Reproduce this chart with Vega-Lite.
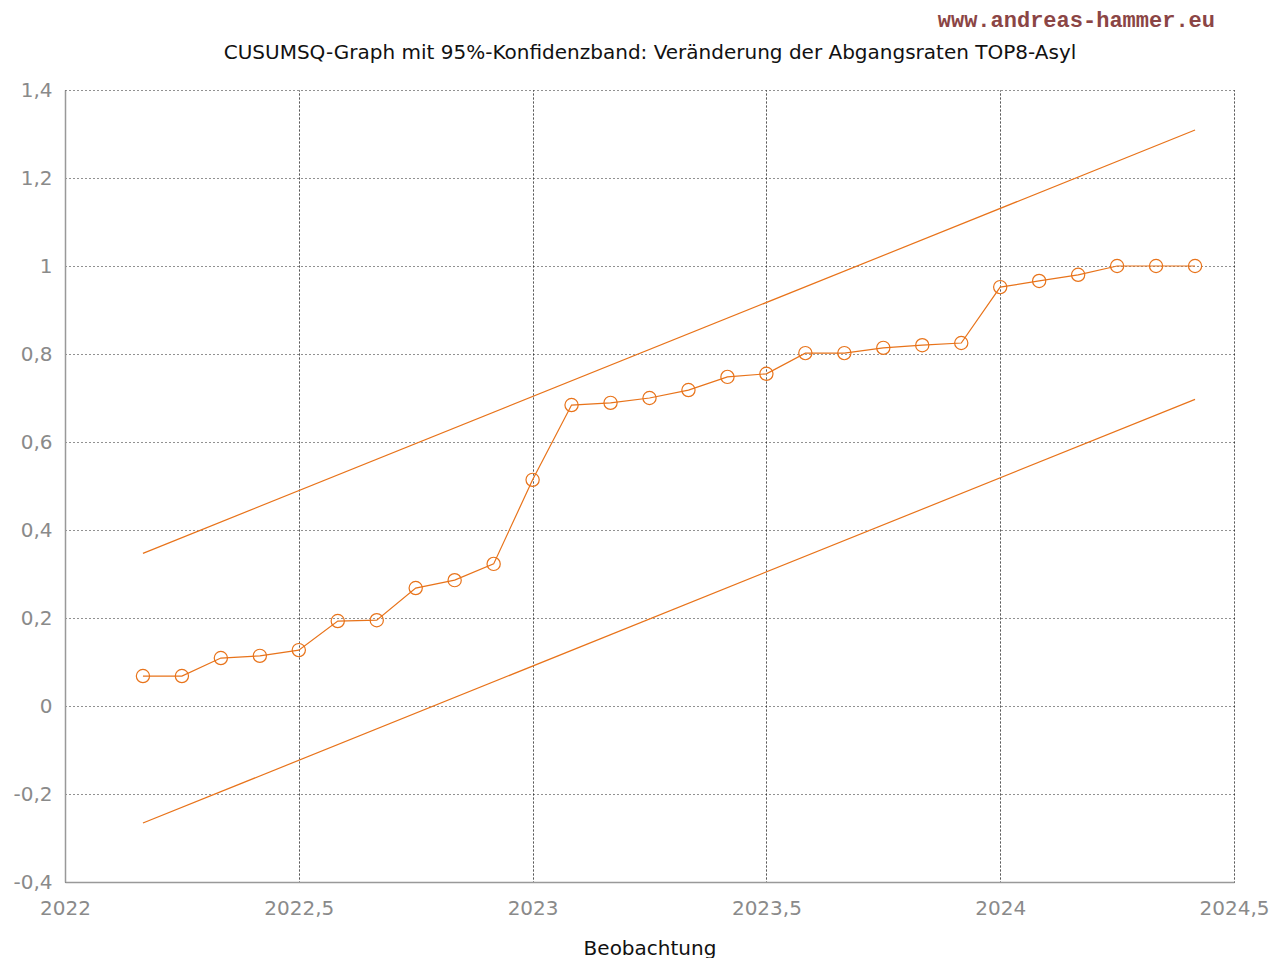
{
  "$schema": "https://vega.github.io/schema/vega-lite/v6.json",
  "autosize": "none",
  "padding": {"left": 65, "top": 90, "right": 50, "bottom": 76},
  "width": 1169,
  "height": 792,
  "background": "white",
  "title": {
    "text": "www.andreas-hammer.eu",
    "anchor": "end",
    "frame": "group",
    "font": "Liberation Mono",
    "fontSize": 22,
    "fontWeight": "bold",
    "color": "#8b4545",
    "baseline": "bottom",
    "offset": -12,
    "dx": -19
  },
  "config": {
    "view": {"stroke": null},
    "axis": {
      "labelFont": "DejaVu Sans",
      "labelFontSize": 20,
      "labelColor": "#8a8a8a",
      "titleFont": "DejaVu Sans",
      "titleFontWeight": "normal",
      "titleColor": "#111111",
      "domainColor": "#999999",
      "domainWidth": 1.5,
      "gridColor": "#222222",
      "gridDash": [1, 3],
      "gridWidth": 1,
      "gridOpacity": 1,
      "ticks": false,
      "labelFlush": false,
      "labelOverlap": false
    }
  },
  "layer": [
    {
      "data": {"values": [
        {"x": 2022.1667, "y": 0.347, "band": "obere Grenze"},
        {"x": 2024.4167, "y": 1.309, "band": "obere Grenze"},
        {"x": 2022.1667, "y": -0.266, "band": "untere Grenze"},
        {"x": 2024.4167, "y": 0.697, "band": "untere Grenze"}
      ]},
      "mark": {"type": "line", "color": "#e8731a", "strokeWidth": 1.2},
      "encoding": {
        "x": {
          "field": "x", "type": "quantitative",
          "scale": {"domain": [2022, 2024.5], "nice": false, "zero": false},
          "axis": {
            "orient": "top", "labels": false, "domain": false,
            "grid": true,
            "values": [2022, 2022.5, 2023, 2023.5, 2024, 2024.5],
            "title": "CUSUMSQ-Graph mit 95%-Konfidenzband: Veränderung der Abgangsraten TOP8-Asyl",
            "titleFontSize": 20, "titleColor": "#111111", "titlePadding": 28
          }
        },
        "y": {
          "field": "y", "type": "quantitative",
          "scale": {"domain": [-0.4, 1.4], "nice": false, "zero": false},
          "axis": {
            "values": [-0.4, -0.2, 0, 0.2, 0.4, 0.6, 0.8, 1, 1.2, 1.4],
            "title": null,
            "labelPadding": 13,
            "labelExpr": "replace(replace(format(datum.value, '~g'), '.', ','), '\u2212', '-')"
          }
        },
        "detail": {"field": "band"}
      }
    },
    {
      "data": {"values": [
        {"x": 2022.1667, "y": 0.068},
        {"x": 2022.25, "y": 0.068},
        {"x": 2022.3333, "y": 0.109},
        {"x": 2022.4167, "y": 0.114},
        {"x": 2022.5, "y": 0.127},
        {"x": 2022.5833, "y": 0.193},
        {"x": 2022.6667, "y": 0.195},
        {"x": 2022.75, "y": 0.268},
        {"x": 2022.8333, "y": 0.286},
        {"x": 2022.9167, "y": 0.323},
        {"x": 2023, "y": 0.514},
        {"x": 2023.0833, "y": 0.684},
        {"x": 2023.1667, "y": 0.689},
        {"x": 2023.25, "y": 0.7},
        {"x": 2023.3333, "y": 0.718},
        {"x": 2023.4167, "y": 0.748},
        {"x": 2023.5, "y": 0.755},
        {"x": 2023.5833, "y": 0.802},
        {"x": 2023.6667, "y": 0.802},
        {"x": 2023.75, "y": 0.814},
        {"x": 2023.8333, "y": 0.82},
        {"x": 2023.9167, "y": 0.825},
        {"x": 2024, "y": 0.952},
        {"x": 2024.0833, "y": 0.966},
        {"x": 2024.1667, "y": 0.98},
        {"x": 2024.25, "y": 1.0},
        {"x": 2024.3333, "y": 1.0},
        {"x": 2024.4167, "y": 1.0}
      ]},
      "mark": {
        "type": "line", "color": "#e8731a", "strokeWidth": 1.2,
        "point": {"filled": false, "shape": "circle", "size": 175, "strokeWidth": 1.2, "color": "#e8731a"}
      },
      "encoding": {
        "x": {
          "field": "x", "type": "quantitative",
          "scale": {"domain": [2022, 2024.5], "nice": false, "zero": false},
          "axis": {
            "orient": "bottom",
            "grid": true,
            "values": [2022, 2022.5, 2023, 2023.5, 2024, 2024.5],
            "title": "Beobachtung",
            "titleFontSize": 20,
            "labelPadding": 16,
            "titlePadding": 20,
            "labelExpr": "replace(format(datum.value, '~g'), '.', ',')"
          }
        },
        "y": {
          "field": "y", "type": "quantitative",
          "scale": {"domain": [-0.4, 1.4], "nice": false, "zero": false}
        }
      }
    }
  ],
  "resolve": {"axis": {"x": "independent"}}
}
